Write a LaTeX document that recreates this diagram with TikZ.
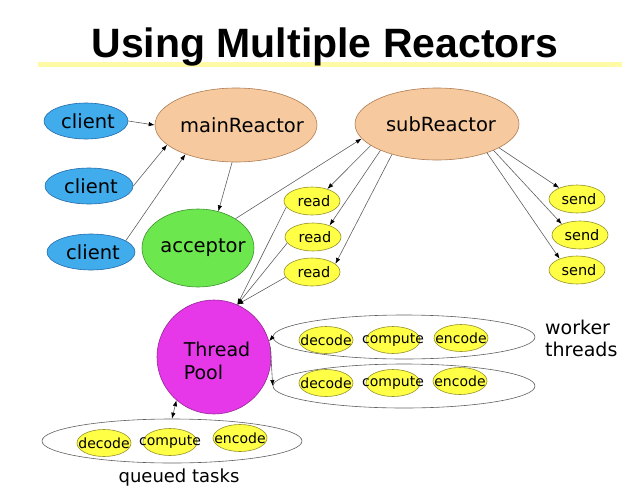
\documentclass[tikz,border=0pt]{standalone}
\usepackage{fontspec}
\setmainfont{DejaVu Sans}
\newfontfamily\titlefont{Liberation Sans}
\usetikzlibrary{shapes.geometric,arrows.meta}
\definecolor{cblue}{RGB}{64,172,236}
\definecolor{cbluedk}{RGB}{35,105,170}
\definecolor{cpeach}{RGB}{246,202,158}
\definecolor{cpeachdk}{RGB}{175,125,85}
\definecolor{cgreen}{RGB}{108,232,78}
\definecolor{cgreendk}{RGB}{60,145,45}
\definecolor{cmag}{RGB}{230,55,232}
\definecolor{cmagdk}{RGB}{150,40,150}
\definecolor{cyel}{RGB}{255,255,70}
\definecolor{cyeldk}{RGB}{150,145,40}
\definecolor{cline}{RGB}{95,95,95}
\definecolor{cbar}{RGB}{255,250,165}
\tikzset{
  ell/.style 2 args={ellipse, inner sep=0pt, minimum width=2*#1, minimum height=2*#2},
  client/.style={ell={44}{18}, draw=cbluedk, fill=cblue, line width=0.6pt, font=\fontsize{19.5}{22}\selectfont},
  reactor/.style={ell={81}{37}, draw=cpeachdk, fill=cpeach, line width=0.6pt, font=\fontsize{19.5}{22}\selectfont},
  small/.style={ell={28}{14}, draw=cyeldk, fill=cyel, line width=0.6pt, font=\fontsize{14.5}{16}\selectfont},
  task/.style={ell={27}{13.5}, draw=cyeldk, fill=cyel, line width=0.6pt, font=\fontsize{14}{16}\selectfont},
  group/.style={ell={131}{22}, draw=cline, line width=0.6pt},
  tip/.tip={Latex[length=6pt,width=4.4pt,color=black]},
  conn/.style={draw=cline, line width=0.6pt, -tip},
}
\newcommand{\zw}[1]{\makebox[0pt][c]{#1}}
\begin{document}
\begin{tikzpicture}[x=1pt,y=-1pt]
\useasboundingbox (0,0) rectangle (632,501);
% title
\fill[cbar] (38,61.5) rectangle (622,67);
\node[anchor=base, inner sep=0pt, font=\titlefont\bfseries\fontsize{41}{44}\selectfont] (title) at (325,57) {Using Multiple Reactors};
% clients
\node[client, ell={42}{18}] (c1) at (86,121) {\zw{\hspace*{4pt}client}};
\node[client] (c2) at (89,186) {\zw{\hspace*{4pt}client}};
\node[client] (c3) at (91,252) {\zw{\hspace*{4pt}client}};
% reactors
\node[reactor] (main) at (236,125) {\zw{\hspace*{12pt}mainReactor}};
\node[reactor, ell={82}{36}] (sub) at (437,124) {\zw{\hspace*{8pt}subReactor}};
\node[ell={56}{39}, draw=cgreendk, fill=cgreen, line width=0.6pt, font=\fontsize{19.5}{22}\selectfont] (acc) at (198,248) {\zw{\hspace*{10pt}acceptor}};
% read / send
\node[small] (r1) at (312,201) {\zw{\hspace*{4pt}read}};
\node[small] (r2) at (313,237) {\zw{\hspace*{4pt}read}};
\node[small] (r3) at (312,272) {\zw{\hspace*{4pt}read}};
\node[small] (s1) at (577,199) {\zw{\hspace*{4pt}send}};
\node[small] (s2) at (580,235) {\zw{\hspace*{4pt}send}};
\node[small] (s3) at (577,270) {\zw{\hspace*{4pt}send}};
% thread pool
\node[circle, inner sep=0pt, minimum size=114, draw=cmagdk, fill=cmag, line width=0.6pt, font=\fontsize{19}{23}\selectfont] (pool) at (214,357)
  {\zw{\raisebox{-11pt}[0pt][0pt]{\hspace*{6pt}\begin{tabular}{@{}l@{}}Thread\\Pool\end{tabular}}}};
% worker thread groups
\node[group] (w1) at (404,337) {};
\node[group] (w2) at (404,386) {};
\node[task] (d1) at (326,340) {\zw{decode}};
\node[task] (m1) at (393,340) {\zw{compute}};
\node[task] (e1) at (461,338) {\zw{encode}};
\node[task] (d2) at (326,383) {\zw{decode}};
\node[task] (m2) at (393,383) {\zw{compute}};
\node[task] (e2) at (460,381) {\zw{encode}};
\node[anchor=base west, inner sep=0pt, align=left, font=\fontsize{19}{22}\selectfont] (wt) at (545,356) {worker\\threads};
% queued tasks
\node[ell={130}{22}, draw=cline, line width=0.6pt] (q) at (172,441) {};
\node[task] (d3) at (104,443) {\zw{decode}};
\node[task] (m3) at (170,442) {\zw{compute}};
\node[task] (e3) at (240,438) {\zw{encode}};
\node[anchor=base, inner sep=0pt, font=\fontsize{18}{22}\selectfont] (qt) at (179,482) {queued tasks};
% connectors
\draw[conn] (c1.east) -- (main.west);
\draw[conn] (c2.east) -- (main.196);
\draw[conn] (c3.18) -- (main.210);
\draw[conn] (main.264) -- (acc.61);
\draw[conn] (acc.38) -- (sub.191);
\draw[conn] (sub.198) -- (r1.38);
\draw[conn] (sub.205) -- (r2.35);
\draw[conn] (sub.214) -- (r3.19);
\draw[conn] (sub.-21) -- (s1.148);
\draw[conn] (sub.-25) -- (s2.149);
\draw[conn] (sub.-30) -- (s3.147);
\draw[conn] (r1.193) -- (pool.66);
\draw[conn] (r2.193) -- (pool.66);
\draw[conn] (r3.191) -- (pool.66);
\draw[conn] (w1.west) -- (pool.16);
\draw[conn] (pool.10) -- (w2.west);
\draw[conn, tip-tip] (pool.229) -- (q.north);
\end{tikzpicture}
\end{document}
